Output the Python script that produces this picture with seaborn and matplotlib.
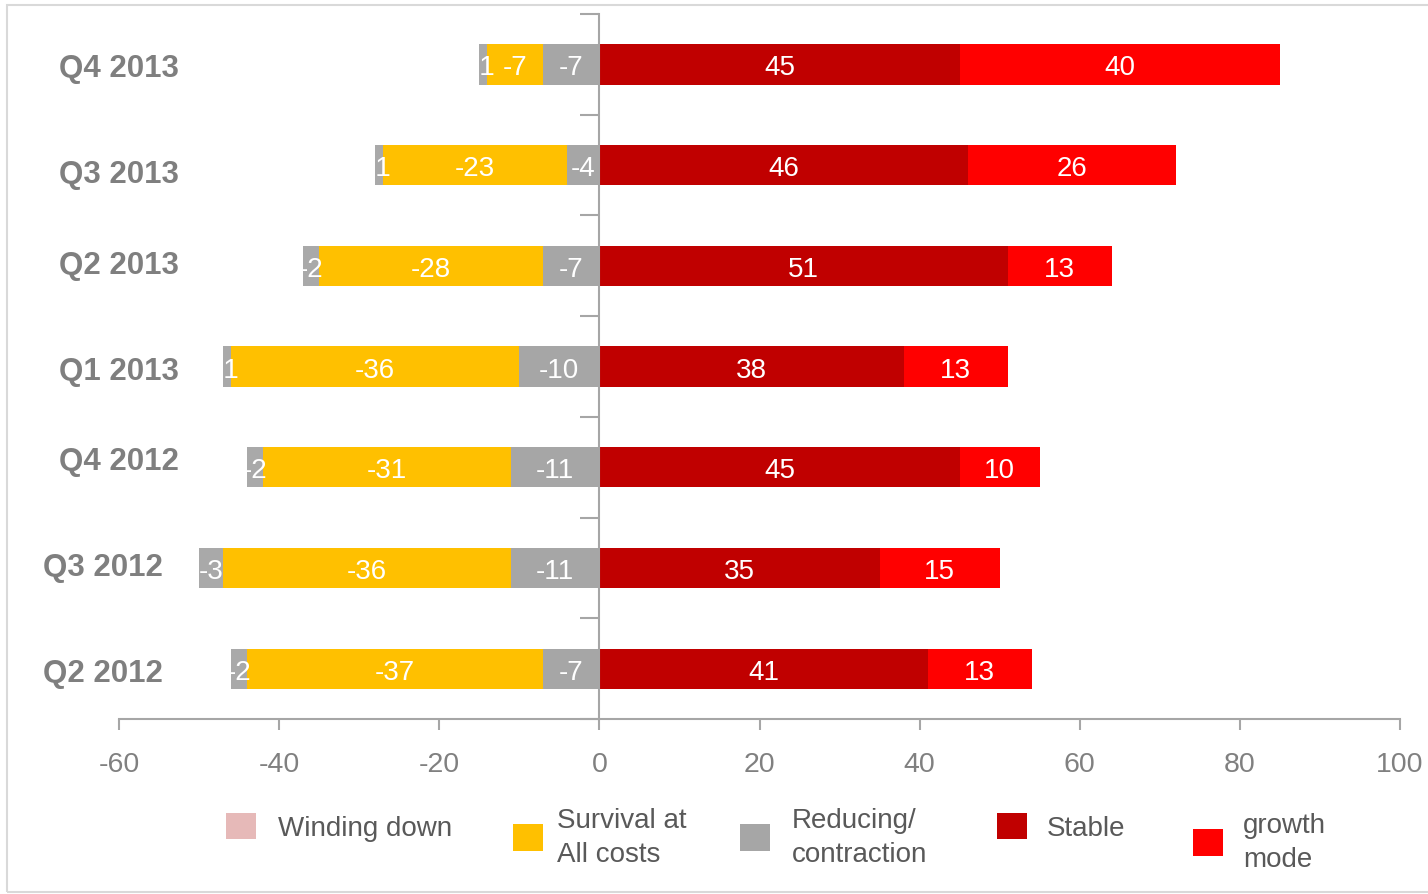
import matplotlib
matplotlib.use("Agg")
import matplotlib.pyplot as plt
from matplotlib.patches import Patch, Rectangle
from matplotlib.transforms import blended_transform_factory
import numpy as np
import pandas as pd
import seaborn as sns

# Survey results per quarter (percent of respondents)
quarters = ["Q4 2013", "Q3 2013", "Q2 2013", "Q1 2013", "Q4 2012", "Q3 2012", "Q2 2012"]
winding_down = [-1, -1, -2, -1, -2, -3, -2]
survival = [-7, -23, -28, -36, -31, -36, -37]
reducing = [-7, -4, -7, -10, -11, -11, -7]
stable = [45, 46, 51, 38, 45, 35, 41]
growth = [40, 26, 13, 13, 10, 15, 13]

legend_labels = ["Winding down", "Survival at\nAll costs", "Reducing/\ncontraction", "Stable", "growth\nmode"]
xticks = [-60, -40, -20, 0, 20, 40, 60, 80, 100]

C_WIND_BAR = "#A9A9A9"
C_WIND_KEY = "#E6B9B8"
C_SURV = "#FFC000"
C_RED = "#A6A6A6"
C_STAB = "#C00000"
C_GROW = "#FF0000"
GRID = "#A6A6A6"

sns.set_theme(style="white")
plt.rcParams["font.family"] = ["Liberation Sans", "DejaVu Sans"]

df = pd.DataFrame({
    "quarter": quarters,
    "wind": winding_down, "surv": survival, "red": reducing,
    "stab": stable, "grow": growth,
})
# cumulative ends of each stacked segment, outward from zero
df["neg1"] = df["red"]
df["neg2"] = df["red"] + df["surv"]
df["neg3"] = df["neg2"] + df["wind"]
df["pos1"] = df["stab"]
df["pos2"] = df["stab"] + df["grow"]

W, H = 1428, 895
fig = plt.figure(figsize=(W / 100, H / 100), dpi=100)
ax = fig.add_axes([119 / W, 1 - 720 / H, (1400 - 119) / W, (720 - 15) / H])

bw = 0.4
# draw outermost totals first, then overlay inner segments
for col, color in [("neg3", C_WIND_BAR), ("neg2", C_SURV), ("neg1", C_RED),
                   ("pos2", C_GROW), ("pos1", C_STAB)]:
    sns.barplot(data=df, x=col, y="quarter", order=quarters, orient="h",
                color=color, width=bw, saturation=1, linewidth=0,
                ax=ax, zorder=2)

# segment value labels
segments = [
    (df["neg3"] - df["wind"] / 2, df["wind"]),
    (df["neg2"] - df["surv"] / 2, df["surv"]),
    (df["neg1"] / 2, df["red"]),
    (df["stab"] / 2, df["stab"]),
    (df["pos1"] + df["grow"] / 2, df["grow"]),
]
for centers, vals in segments:
    for i, (cx, v) in enumerate(zip(centers, vals)):
        ax.text(cx, i + 0.03, f"{v:d}", color="white", fontsize=20,
                ha="center", va="center", zorder=4)

ax.set_xlim(-60, 100)
ax.set_ylim(len(quarters) - 0.5, -0.5)
ax.set_xlabel("")
ax.set_ylabel("")

for s in ["top", "right"]:
    ax.spines[s].set_visible(False)
ax.spines["left"].set_position(("data", 0))
for s in ["left", "bottom"]:
    ax.spines[s].set_color(GRID)
    ax.spines[s].set_linewidth(1.5)
    ax.spines[s].set_zorder(3)

ax.set_xticks(xticks)
ax.set_xticklabels([str(t) for t in xticks], fontsize=20.5, color="#808080")
ax.tick_params(axis="x", bottom=True, direction="out", length=8, width=1.5,
               color=GRID, pad=15)

# y axis: ticks at category boundaries on the zero line, labels at far left
ax.set_yticks(np.arange(-0.5, len(quarters) + 0.5, 1.0))
ax.set_yticklabels([])
ax.tick_params(axis="y", left=True, direction="out", length=14, width=1.5,
               color=GRID)

label_dx = [0, 0, 0, 0, 0, -16, -16]
label_dy = [0.04, 0.09, -0.01, 0.04, -0.06, -0.01, 0.04]
trans = blended_transform_factory(fig.transFigure, ax.transData)
for i, q in enumerate(quarters):
    ax.text((179 + label_dx[i]) / W, i + label_dy[i], q, transform=trans,
            ha="right", va="center", fontsize=22.5, fontweight="bold",
            color="#7F7F7F")

# legend entries placed one by one along the bottom
key_colors = [C_WIND_KEY, C_SURV, C_RED, C_STAB, C_GROW]
key_x = [226, 513, 740, 997, 1193]
key_y = [828, 838, 838, 828, 843]
key_pad = [0.8, 0.5, 0.8, 0.72, 0.72]
for lab, c, kx, ky, kp in zip(legend_labels, key_colors, key_x, key_y, key_pad):
    leg = fig.legend([Patch(facecolor=c, edgecolor="none")], [lab],
                     loc="center left", bbox_to_anchor=(kx / W, 1 - ky / H),
                     frameon=False, borderpad=0, borderaxespad=0,
                     fontsize=20, labelcolor="#595959",
                     handlelength=1.07, handleheight=1.07, handletextpad=kp,
                     labelspacing=0.1)
    for t in leg.get_texts():
        t.set_linespacing(1.4)

# thin outer frame
fig.patches.append(Rectangle((7 / W, 2 / H), 1.0, 1 - 8 / H, transform=fig.transFigure,
                             fill=False, edgecolor="#D9D9D9", linewidth=1.5))

fig.savefig("out.png", dpi=100)
